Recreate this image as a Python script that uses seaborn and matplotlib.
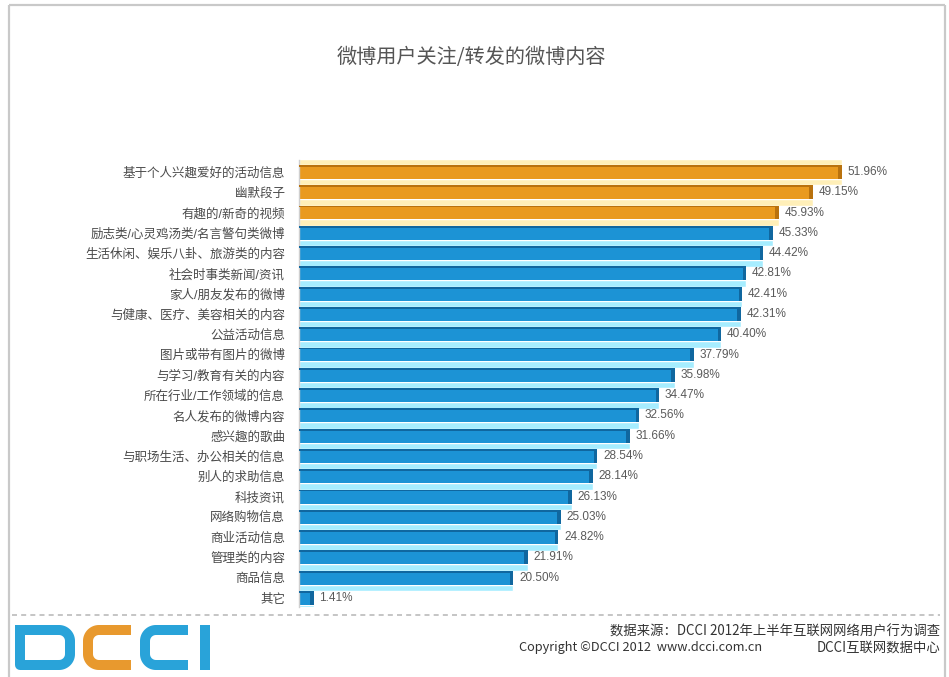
import numpy as np
import pandas as pd
import matplotlib
matplotlib.use("Agg")
import matplotlib.pyplot as plt
import seaborn as sns

# Survey data: what Weibo users follow / repost (share of respondents, %)
categories = [
    "基于个人兴趣爱好的活动信息", "幽默段子", "有趣的/新奇的视频",
    "励志类/心灵鸡汤类/名言警句类微博", "生活休闲、娱乐八卦、旅游类的内容",
    "社会时事类新闻/资讯", "家人/朋友发布的微博", "与健康、医疗、美容相关的内容",
    "公益活动信息", "图片或带有图片的微博", "与学习/教育有关的内容",
    "所在行业/工作领域的信息", "名人发布的微博内容", "感兴趣的歌曲",
    "与职场生活、办公相关的信息", "别人的求助信息", "科技资讯",
    "网络购物信息", "商业活动信息", "管理类的内容", "商品信息", "其它",
]
values = [51.96, 49.15, 45.93, 45.33, 44.42, 42.81, 42.41, 42.31, 40.40, 37.79,
          35.98, 34.47, 32.56, 31.66, 28.54, 28.14, 26.13, 25.03, 24.82, 21.91,
          20.50, 1.41]
top_n = 3

title = "微博用户关注/转发的微博内容"
source_line = "数据来源：DCCI 2012年上半年互联网网络用户行为调查"
copyright_line = "Copyright ©DCCI 2012  www.dcci.com.cn"
org_line = "DCCI互联网数据中心"

sns.set_theme(style="white")
plt.rcParams["font.family"] = ["Liberation Sans", "Noto Sans CJK SC", "DejaVu Sans"]

W, H = 949, 677
fig = plt.figure(figsize=(W / 100, H / 100), dpi=100)
fig.patch.set_facecolor("white")

# pixel-space overlay for the frame, title, footer and logo
ov = fig.add_axes([0, 0, 1, 1], zorder=0)
ov.set_xlim(0, W)
ov.set_ylim(H, 0)
ov.axis("off")
ov.patch.set_alpha(0)

df = pd.DataFrame({
    "category": categories,
    "value": values,
    "group": ["top" if i < top_n else "rest" for i in range(len(values))],
})

ax = fig.add_axes([299 / W, (H - 607) / H, 627 / W, 447 / H], zorder=2)
ax.patch.set_alpha(0)

main = {"top": "#E99A1F", "rest": "#1C93D5"}
dark = {"top": "#B9720E", "rest": "#10679F"}
light = {"top": "#FFEFB8", "rest": "#A6EDFF"}

pos = np.arange(len(df))
# pale reflection band under each bar
ax.barh(pos + 0.5, df["value"], height=0.32,
        color=[light[g] for g in df["group"]], zorder=1)
ax.barh([-0.5], [df["value"][0]], height=0.3, color=light["top"], zorder=1)

sns.barplot(data=df, x="value", y="category", hue="group", order=categories,
            palette=main, width=0.68, legend=False, ax=ax, zorder=2,
            saturation=1, linewidth=0)

# darker top edge and end cap for the bevelled look
ax.barh(pos - 0.30, df["value"], height=0.09,
        color=[dark[g] for g in df["group"]], zorder=3, linewidth=0)
ax.barh(pos, [0.35] * len(df), left=df["value"] - 0.35, height=0.68,
        color=[dark[g] for g in df["group"]], zorder=3, linewidth=0)

for i, v in enumerate(df["value"]):
    ax.text(v + 0.55, i, f"{v:.2f}%", va="center", ha="left",
            fontsize=8.5, color="#5A5A5A", zorder=4)

ax.set_xlim(0, 60)
ax.set_ylim(21.44, -0.59)
ax.set_xlabel("")
ax.set_ylabel("")
ax.set_xticks([])
ax.tick_params(axis="y", length=0, pad=10, labelsize=9, labelcolor="#4A4A4A")
for side in ["top", "right", "bottom"]:
    ax.spines[side].set_visible(False)
ax.spines["left"].set_color("#CFCFCF")
ax.spines["left"].set_linewidth(1.0)

# outer frame
frame_c = "#C9C9C9"
ov.plot([9, 945], [5, 5], color=frame_c, lw=1.6, solid_capstyle="butt")
ov.plot([9, 9], [5, H], color=frame_c, lw=1.6, solid_capstyle="butt")
ov.plot([945, 945], [5, H], color=frame_c, lw=1.6, solid_capstyle="butt")

# dashed separator above the footer
ov.plot([12, 940], [615, 615], color="#BBBBBB", lw=1.2, ls=(0, (3, 2.5)))

ov.text(471, 57, title, ha="center", va="center", fontsize=14.5,
        color="#555555", family=["Noto Sans CJK SC", "DejaVu Sans"])

foot_kw = dict(ha="right", va="center", color="#333333",
               family=["Noto Sans CJK SC", "DejaVu Sans"])
ov.text(940, 632, source_line, fontsize=9.6, **foot_kw)
ov.text(762, 648, copyright_line, fontsize=9.2, **foot_kw)
ov.text(940, 648, org_line, fontsize=9.6, **foot_kw)

# DCCI logo built from thick strokes
blue_l, orange_l = "#29A3D9", "#E8992E"
sw = 10 * 72 / 100  # 10 px stroke in points


def arc(cx, cy, r, a0, a1, n=20):
    t = np.radians(np.linspace(a0, a1, n))
    return cx + r * np.cos(t), cy + r * np.sin(t)


top_y, bot_y, rad = 630, 665, 11
# D
xs, ys = [20, 59], [top_y, top_y]
ax_, ay_ = arc(59, top_y + rad, rad, -90, 0)
xs += list(ax_); ys += list(ay_)
xs += [70, 70]; ys += [top_y + rad, bot_y - rad]
ax_, ay_ = arc(59, bot_y - rad, rad, 0, 90)
xs += list(ax_); ys += list(ay_)
xs += [20, 20]; ys += [bot_y, top_y - 5]
ov.plot(xs, ys, color=blue_l, lw=sw, solid_capstyle="butt", solid_joinstyle="round")


def letter_c(x_left, x_right, color):
    xs = [x_right, x_left + rad]
    ys = [top_y, top_y]
    a, b = arc(x_left + rad, top_y + rad, rad, -90, -180)
    xs += list(a); ys += list(b)
    xs += [x_left, x_left]; ys += [top_y + rad, bot_y - rad]
    a, b = arc(x_left + rad, bot_y - rad, rad, 180, 90)
    xs += list(a); ys += list(b)
    xs += [x_right]; ys += [bot_y]
    ov.plot(xs, ys, color=color, lw=sw, solid_capstyle="butt", solid_joinstyle="round")


letter_c(88, 131, orange_l)
letter_c(145, 188, blue_l)
ov.plot([205, 205], [top_y - 5, bot_y + 5], color=blue_l, lw=sw, solid_capstyle="butt")

fig.savefig("out.png", dpi=100, facecolor="white")
